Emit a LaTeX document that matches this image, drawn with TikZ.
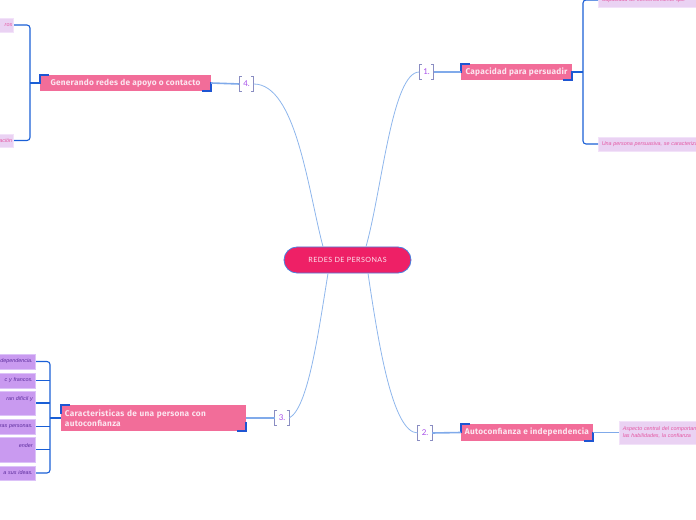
\documentclass[tikz,border=0pt]{standalone}
\usepackage{fontspec}
\setmainfont{Lato}
\newfontfamily\lblfont{Fira Sans}[LetterSpace=3]
\newfontfamily\ctrfont{Lato}[LetterSpace=6]
\newfontfamily\smallfont{Liberation Sans}
\definecolor{pinkmain}{HTML}{F26D99}
\definecolor{hotpink}{HTML}{EE2066}
\definecolor{lbltext}{HTML}{FCE6F0}
\definecolor{lavfill}{HTML}{EAD2F3}
\definecolor{lavdraw}{HTML}{F2E2F9}
\definecolor{lavtext}{HTML}{E457A2}
\definecolor{purfill}{HTML}{C99AF0}
\definecolor{purdraw}{HTML}{DCC2F8}
\definecolor{purtext}{HTML}{5B2C9C}
\definecolor{branchblue}{HTML}{1A5FD6}
\definecolor{curveblue}{HTML}{8EB6EC}
\definecolor{linkblue}{HTML}{80AAEA}
\definecolor{brkcol}{HTML}{8A8DC2}
\definecolor{numcol}{HTML}{A64EE8}
\definecolor{cornercol}{HTML}{1E55D2}
\begin{document}
\begin{tikzpicture}[x=1bp,y=-1bp,
  mainlbl/.style={fill=pinkmain, text=lbltext, font=\lblfont\bfseries\fontsize{8.3}{10}\selectfont, inner sep=0pt, align=left},
  centre/.style={fill=hotpink, draw=branchblue!80, line width=0.8bp, rounded corners=13bp, text=lbltext, font=\ctrfont\fontsize{7.2}{8}\selectfont, minimum width=127bp, minimum height=26bp, inner sep=0pt},
  brk/.style={minimum width=14bp, minimum height=15bp, inner sep=0pt, text=numcol, font=\fontsize{8}{9}\selectfont},
  brkline/.style={draw=brkcol, line width=0.9bp},
  lavbox/.style={fill=lavfill, draw=lavdraw, line width=0.6bp, text=lavtext, font=\smallfont\itshape\fontsize{5.4}{7}\selectfont, inner sep=3.5bp},
  purbox/.style={fill=purfill, draw=purdraw, line width=0.6bp, text=purtext, font=\smallfont\itshape\fontsize{5.4}{8}\selectfont, inner sep=3bp, anchor=east, text width=60bp, align=right},
  curve/.style={draw=curveblue, line width=0.8bp},
  link/.style={draw=linkblue, line width=1.6bp},
  branch/.style={draw=branchblue, line width=1.1bp, rounded corners=3bp},
  cornerline/.style={draw=cornercol, line width=1.6bp}
]
\useasboundingbox (0,0) rectangle (696,520);
\clip (0,0) rectangle (696,520);

% centre
\node[centre] (c) at (347.5,260) {REDES DE PERSONAS};

% brackets with numbers
\node[brk] (b1) at (426.5,72) {1.};
\node[brk] (b4) at (246.5,84) {4.};
\node[brk] (b3) at (282,418) {3.};
\node[brk] (b2) at (425,433) {2.};
\foreach \b in {b1,b2,b3,b4}{
  \draw[brkline] ([shift={(2.5,0)}]\b.north west) -- (\b.north west) -- (\b.south west) -- ([shift={(2.5,0)}]\b.south west);
  \draw[brkline] ([shift={(-2.5,0)}]\b.north east) -- (\b.north east) -- (\b.south east) -- ([shift={(-2.5,0)}]\b.south east);
}

% main labels
\node[mainlbl, minimum width=111bp, minimum height=16bp] (cap) at (516.5,72) {Capacidad para persuadir};
\node[mainlbl, minimum width=171bp, minimum height=16bp] (gen) at (125.5,83) {Generando redes de apoyo o contacto};
\node[mainlbl, minimum height=26bp, text width=177bp, inner xsep=4bp] (car) at (153.5,418) {Caracteristicas de una persona con\\autoconfianza};
\node[mainlbl, minimum width=132bp, minimum height=17bp] (aut) at (527,432.5) {Autoconfianza e independencia};

% corner decorations
\foreach \n in {cap,gen,car,aut}{
  \draw[cornerline] ([shift={(0,9)}]\n.north west) -- (\n.north west) -- ([shift={(9,0)}]\n.north west);
  \draw[cornerline] ([shift={(0,-9)}]\n.south east) -- (\n.south east) -- ([shift={(-9,0)}]\n.south east);
}

% curves from centre
\draw[curve] ([shift={(18.5,0)}]c.north) .. controls (382,190) and (392,72) .. (b1.west);
\draw[curve] ([shift={(-24.5,0)}]c.north) .. controls (308,190) and (296,84) .. (b4.east);
\draw[curve] ([shift={(-19.5,0)}]c.south) .. controls (318,335) and (308,408) .. (b3.east);
\draw[curve] ([shift={(20.5,0)}]c.south) .. controls (378,340) and (392,433) .. (b2.west);

% links bracket -> label
\draw[link] (b1.east) -- (cap.west);
\draw[link] (b4.west) -- (gen.east);
\draw[link] (b3.west) -- (car.east);
\draw[link] (b2.east) -- (aut.west);

% children of 1
\coordinate (j1) at (583,72);
\node[lavbox, anchor=west, text width=150bp, align=left, minimum height=14bp] (c1a) at (598,0) {Capacidad de convencimiento que};
\node[lavbox, anchor=west, text width=150bp, align=left, minimum height=14bp] (c1b) at (598,144) {Una persona persuasiva, se caracteriza};
\draw[branch] (cap.east) -- (j1);
\draw[branch] (c1a.west) -| (j1) |- (c1b.west);

% children of 4
\coordinate (j4) at (30,83);
\node[lavbox, anchor=east, text width=60bp, align=right, minimum height=14bp, inner ysep=3bp, inner xsep=1.5bp] (c4a) at (14,25) {ros};
\node[lavbox, anchor=east, text width=60bp, align=right, minimum height=13bp, inner ysep=3bp, inner xsep=1.5bp] (c4b) at (14,140.5) {ación};
\draw[branch] (gen.west) -- (j4);
\draw[branch] (c4a.east) -| (j4) |- (c4b.east);

% children of 3
\coordinate (j3) at (50,418);
\node[purbox, minimum height=15bp] (k1) at (36,361.5) {dependencia.};
\node[purbox, minimum height=15bp] (k2) at (36,380.5) {c y francos.};
\node[purbox, minimum height=24bp] (k3) at (36,403) {ran difícil y\\\mbox{}};
\node[purbox, minimum height=15bp] (k4) at (36,426.5) {ras personas.};
\node[purbox, minimum height=25bp] (k5) at (36,449.5) {ender\\\mbox{}};
\node[purbox, minimum height=14bp] (k6) at (36,473) {a sus ideas.};
\draw[branch] (car.west) -- (j3);
\draw[branch] (k1.east) -| (j3) |- (k6.east);
\foreach \k in {k2,k3,k4,k5}{
  \draw[branch] (\k.east) -- (\k.east -| j3);
}

% child of 2
\node[lavbox, anchor=west, text width=150bp, align=left, minimum height=23bp] (c2) at (619,432.5) {Aspecto central del comportamiento\\las habilidades, la confianza};
\draw[link] (aut.east) -- (c2.west);
\end{tikzpicture}
\end{document}
